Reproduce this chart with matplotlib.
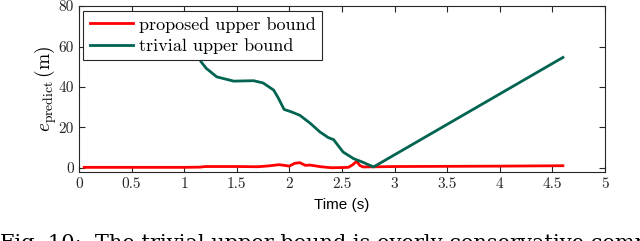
import numpy as np
import matplotlib.pyplot as plt

plt.rcParams['mathtext.fontset'] = 'cm'
plt.rcParams['axes.formatter.use_mathtext'] = True

# trivial upper bound (green)
t_triv = [1.05, 1.16, 1.21, 1.31, 1.47, 1.66, 1.75, 1.85, 1.89, 1.95, 2.02, 2.10,
          2.20, 2.29, 2.37, 2.42, 2.51, 2.61, 2.69, 2.80, 4.60]
e_triv = [66.0, 52.5, 49.2, 45.0, 42.9, 43.1, 42.0, 38.5, 35.0, 28.9, 27.7, 26.0,
          22.0, 17.8, 15.0, 14.0, 7.9, 4.6, 3.0, 0.5, 54.6]

# proposed upper bound (red)
t_prop = [0.05, 0.5, 1.0, 1.15, 1.2, 1.5, 1.7, 1.8, 1.9, 1.95, 2.0, 2.05, 2.1, 2.15,
          2.2, 2.3, 2.4, 2.5, 2.56, 2.6, 2.64, 2.67, 2.7, 3.0, 3.5, 4.0, 4.6]
e_prop = [0.3, 0.3, 0.3, 0.4, 0.7, 0.7, 0.6, 1.0, 1.6, 1.3, 0.9, 2.3, 2.6, 1.3,
          1.4, 0.6, 0.1, 0.2, 0.3, 1.5, 3.3, 1.2, 0.5, 0.7, 0.8, 0.9, 1.1]

fig = plt.figure(figsize=(6.4, 2.41), dpi=100)
ax = fig.add_axes([0.1234, 0.2863, 0.8219, 0.6887])

ax.plot(t_prop, e_prop, color='#ff0000', lw=2, label='proposed upper bound')
ax.plot(t_triv, e_triv, color='#006450', lw=2, label='trivial upper bound')

ax.set_xlim(0, 5)
ax.set_ylim(-2, 80)
ax.set_xticks(np.arange(0, 5.01, 0.5))
ax.set_xticklabels(['0', '0.5', '1', '1.5', '2', '2.5', '3', '3.5', '4', '4.5', '5'],
                   fontfamily='cmr10', fontsize=11)
ax.set_yticks([0, 20, 40, 60, 80])
ax.set_yticklabels(['0', '20', '40', '60', '80'], fontfamily='cmr10', fontsize=11)
ax.tick_params(direction='in', top=True, right=True, length=4, width=0.8, colors='#262626')
for s in ax.spines.values():
    s.set_color('#262626')
    s.set_linewidth(0.8)

ax.set_xlabel('Time (s)', fontfamily='Liberation Sans', fontsize=11, labelpad=5)
ax.set_ylabel(r'$e_{\rm predict}\,\rm(m)$', fontsize=14, labelpad=0)

leg = ax.legend(loc='upper left', prop={'family': 'cmr10', 'size': 13}, fancybox=False,
                edgecolor='#262626', framealpha=1, borderaxespad=0.25, handlelength=2.4,
                borderpad=0.35, labelspacing=0.3, handletextpad=0.3)
leg.get_frame().set_linewidth(0.8)

fig.text(0.0, -0.01, 'Fig. 10:  The trivial upper bound is overly conservative compared to the',
         fontfamily='DejaVu Serif', fontsize=15, va='center', ha='left')

fig.savefig('out.png', dpi=100)
